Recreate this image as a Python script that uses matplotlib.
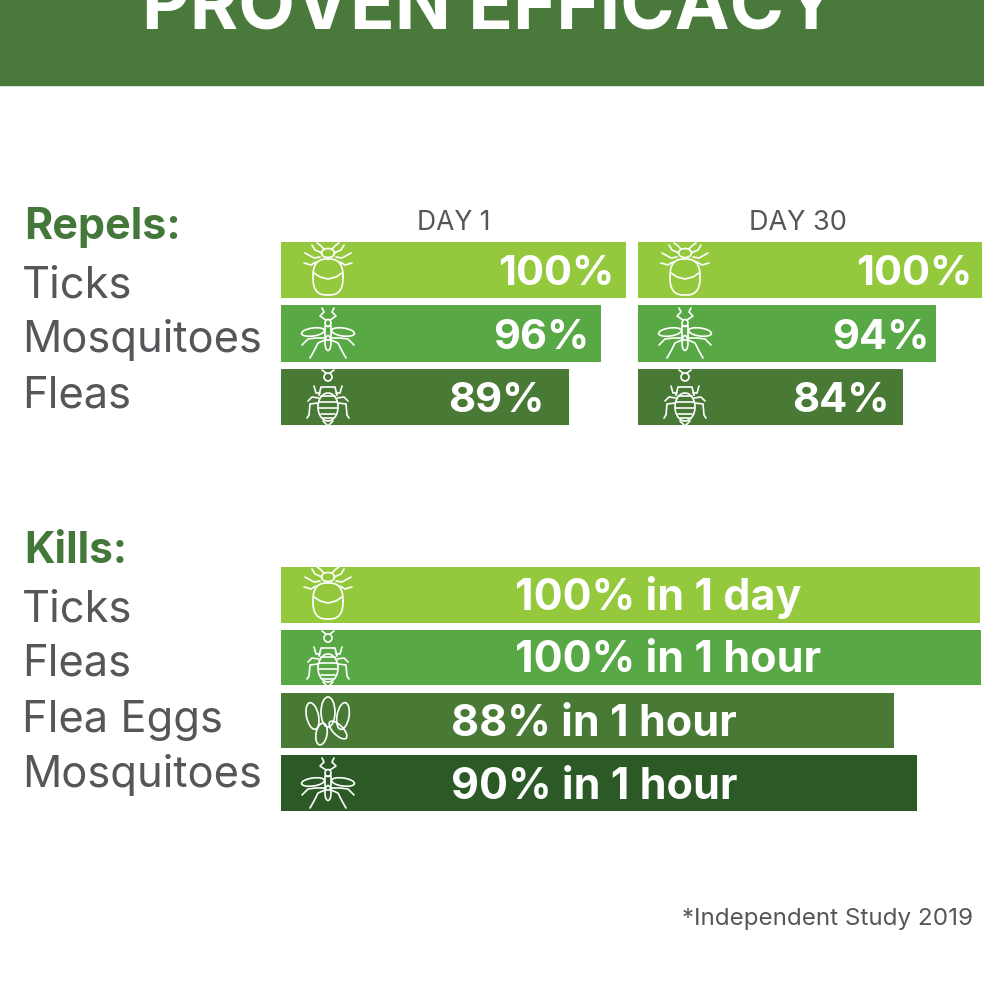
import matplotlib
matplotlib.use("Agg")
import matplotlib.pyplot as plt
from matplotlib.patches import Ellipse, Rectangle
import numpy as np

plt.rcParams['font.family'] = ['Inter', 'DejaVu Sans']

# bar lengths as drawn (the drawn bars are not quite to scale with their labels)
repel_names = ["Ticks", "Mosquitoes", "Fleas"]
day1_len = [100, 92.7, 83.5]
day30_len = [100, 86.6, 77.0]
day1_labels = ["100%", "96%", "89%"]
day30_labels = ["100%", "94%", "84%"]

kill_names = ["Ticks", "Fleas", "Flea Eggs", "Mosquitoes"]
kill_len = [99.8, 100, 87.6, 90.9]
kill_labels = ["100% in 1 day", "100% in 1 hour", "88% in 1 hour", "90% in 1 hour"]

repel_cols = ["#94c83d", "#58a846", "#487a35"]
kill_cols = ["#94c83d", "#58a846", "#487a35", "#2b5a27"]
grey = "#55565a"
green = "#43783a"

fig = plt.figure(figsize=(9.84, 9.84), dpi=100, facecolor="white")


def px_axes(x0, x1, y0, y1):
    # axes from pixel box, y measured from the top
    a = fig.add_axes([x0 / 984, 1 - y1 / 984, (x1 - x0) / 984, (y1 - y0) / 984])
    a.axis("off")
    return a


def bars(a, lengths, cols, nrow):
    a.barh(range(nrow), lengths, height=0.885, color=cols)
    a.set_xlim(0, 100)
    a.set_ylim(nrow - 1 + 0.4425, -0.4425)


ax1 = px_axes(281, 626, 242, 425)
bars(ax1, day1_len, repel_cols, 3)
ax2 = px_axes(638, 982, 242, 425)
bars(ax2, day30_len, repel_cols, 3)
ax3 = px_axes(281, 981, 567, 811)
bars(ax3, kill_len, kill_cols, 4)

# overlay in pixel coordinates for header, text and icons
ov = fig.add_axes([0, 0, 1, 1], facecolor="none")
ov.set_xlim(0, 984)
ov.set_ylim(984, 0)
ov.axis("off")

ov.add_patch(Rectangle((0, 0), 984, 85, color="#4a7a3b", zorder=1))
ov.text(490, 30, "PROVEN EFFICACY", color="white", fontsize=53, fontweight="bold",
        ha="center", va="baseline", zorder=2)

ov.text(24, 239, "Repels:", color=green, fontsize=31, fontweight="bold", va="baseline")
ov.text(24, 563, "Kills:", color=green, fontsize=30.5, fontweight="bold", va="baseline")
for n, y in zip(repel_names, [297, 352, 407]):
    ov.text(22, y, n, color=grey, fontsize=31.3, va="baseline")
for n, y in zip(kill_names, [621, 676, 732, 787]):
    ov.text(22, y, n, color=grey, fontsize=31.3, va="baseline")

ov.text(454, 230, "DAY 1", color=grey, fontsize=19, ha="center", va="baseline")
ov.text(798, 230, "DAY 30", color=grey, fontsize=19.5, ha="center", va="baseline")
ov.text(973, 925, "*Independent Study 2019", color=grey, fontsize=17.4, ha="right", va="baseline")

for t, x, y in zip(day1_labels, [614, 589, 544], [285, 349, 412]):
    ov.text(x, y, t, color="white", fontsize=30, fontweight="bold", ha="right", va="baseline")
for t, x, y in zip(day30_labels, [972, 929, 890], [285, 349, 412]):
    ov.text(x, y, t, color="white", fontsize=30, fontweight="bold", ha="right", va="baseline")
for t, x, y in zip(kill_labels, [515, 515, 451, 451], [610, 672, 736, 799]):
    ov.text(x, y, t, color="white", fontsize=31, fontweight="bold", ha="left", va="baseline")


def stroke(cx, cy, xs, ys, mirror=True):
    xs = np.array(xs)
    ov.plot(cx + xs, cy + np.array(ys), color="white", lw=1.2, solid_capstyle="round")
    if mirror:
        ov.plot(cx - xs, cy + np.array(ys), color="white", lw=1.2, solid_capstyle="round")


def oval(cx, cy, w, h, ang=0):
    ov.add_patch(Ellipse((cx, cy), w, h, angle=ang, fill=False, ec="white", lw=1.2))


def tick_icon(cx, cy):
    oval(cx, cy - 17, 13, 9)
    # body outline, a rounded box
    t = np.linspace(0, 2 * np.pi, 80)
    ov.plot(cx + 15 * np.sign(np.cos(t)) * np.abs(np.cos(t)) ** 0.7,
            cy + 7 + 18 * np.sign(np.sin(t)) * np.abs(np.sin(t)) ** 0.8,
            color="white", lw=1.2)
    stroke(cx, cy, [-14, -8, 0, 8, 14], [3, 7, 9, 7, 3], mirror=False)
    stroke(cx, cy, [6, 13, 16], [-17, -20, -25])
    stroke(cx, cy, [4, 8, 11], [-21, -25, -27])
    stroke(cx, cy, [8, 14, 23], [-13, -12, -17])
    stroke(cx, cy, [12, 17, 24], [-8, -5, -7])


def mosquito_icon(cx, cy):
    ov.add_patch(Rectangle((cx - 3, cy - 7), 6, 14, fill=False, ec="white", lw=1.2))
    oval(cx, cy + 10, 6, 15)
    oval(cx, cy - 10, 6, 7)
    oval(cx - 15, cy - 1, 23, 8, -8)
    oval(cx + 15, cy - 1, 23, 8, 8)
    stroke(cx, cy, [2, 8, 4, 6], [-13, -17, -21, -25])
    stroke(cx, cy, [3, 12, 20, 26], [5, 5, 6, 12])
    stroke(cx, cy, [3, 10, 14, 18], [7, 10, 18, 25])


def flea_icon(cx, cy):
    oval(cx, cy - 20, 8, 8)
    stroke(cx, cy, [2, 6], [-24, -27])
    ov.plot(*[[cx - 9, cx - 7, cx + 7, cx + 9], [cy - 2, cy - 10, cy - 10, cy - 2]],
            color="white", lw=1.2)
    oval(cx, cy + 10, 20, 28)
    stroke(cx, cy, [-5, 0, 5], [24, 29, 24], mirror=False)
    for dy in [-1, 5, 11, 17, 21]:
        w = 10 - abs(dy - 8) * 0.35
        stroke(cx, cy, [-w, w], [dy, dy], mirror=False)
    stroke(cx, cy, [8, 12, 14], [-4, -4, -11])
    stroke(cx, cy, [9, 16, 20], [1, 0, 4])
    stroke(cx, cy, [10, 18, 19, 21], [6, 7, 18, 21])


def eggs_icon(cx, cy):
    oval(cx, cy - 10, 14, 30)
    oval(cx - 15.5, cy - 6, 12, 27, -12)
    oval(cx + 15, cy - 6, 12, 27, 10)
    oval(cx - 6.5, cy + 12, 11, 22, 10)
    oval(cx + 10, cy + 8, 10, 23, -45)


for f, y in zip([tick_icon, mosquito_icon, flea_icon], [270, 333, 397]):
    f(328, y)
    f(685, y)
for f, y in zip([tick_icon, flea_icon, eggs_icon, mosquito_icon], [594, 658, 722, 783]):
    f(328, y)

fig.savefig("out.png", dpi=100, facecolor="white")
